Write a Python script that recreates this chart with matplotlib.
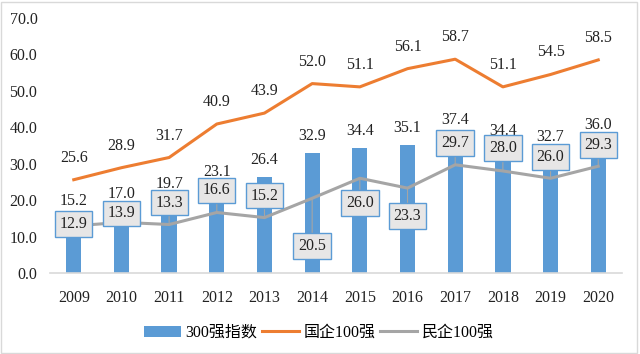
import matplotlib.pyplot as plt
from matplotlib.patches import Rectangle

plt.rcParams['font.family'] = ['Liberation Serif', 'Noto Sans CJK SC']

years = ['2009', '2010', '2011', '2012', '2013', '2014', '2015', '2016',
         '2017', '2018', '2019', '2020']
idx300 = [15.2, 17.0, 19.7, 23.1, 26.4, 32.9, 34.4, 35.1, 37.4, 34.4, 32.7, 36.0]
soe100 = [25.6, 28.9, 31.7, 40.9, 43.9, 52.0, 51.1, 56.1, 58.7, 51.1, 54.5, 58.5]
pri100 = [12.9, 13.9, 13.3, 16.6, 15.2, 20.5, 26.0, 23.3, 29.7, 28.0, 26.0, 29.3]

# callout vertical offsets (pixels) for the private-enterprise labels
pri_dy = [2, 9, 22, 22, 22, -48, -25, -28, 22, 23, 21, 21]

blue = '#5B9BD5'
orange = '#ED7D31'
gray = '#A5A5A5'
fs = 11.5

fig = plt.figure(figsize=(6.4, 3.54), dpi=100)
ax = fig.add_axes((0.078, 0.229, 0.894, 0.72))
x = range(len(years))

b = ax.bar(x, idx300, width=0.32, color=blue, label='300强指数', zorder=2)
l1, = ax.plot(x, soe100, color=orange, lw=2.2, label='国企100强', zorder=3)
l2, = ax.plot(x, pri100, color=gray, lw=2.2, label='民企100强', zorder=3)

for i in x:
    ax.annotate(f'{idx300[i]:.1f}', (i, idx300[i]), xytext=(0, 17),
                textcoords='offset pixels', ha='center', va='center',
                fontsize=fs, color='#222222', zorder=4)
    ax.annotate(f'{soe100[i]:.1f}', (i, soe100[i]), xytext=(0, 22),
                textcoords='offset pixels', ha='center', va='center',
                fontsize=fs, color='#222222', zorder=4)
    ax.annotate(f'{pri100[i]:.1f}', (i, pri100[i]), xytext=(0, pri_dy[i]),
                textcoords='offset pixels', ha='center', va='center',
                fontsize=fs, color='#222222', zorder=5,
                bbox=dict(boxstyle='square,pad=0.3', fc='#E7E6E6', ec=blue, lw=1),
                arrowprops=dict(arrowstyle='-', color=gray, lw=0.8,
                                shrinkA=0, shrinkB=0))

ax.set_xlim(-0.5, len(years) - 0.5)
ax.set_ylim(0, 70)
ax.set_yticks(range(0, 71, 10))
ax.set_yticklabels([f'{v:.1f}' for v in range(0, 71, 10)])
ax.set_xticks(list(x))
ax.set_xticklabels(years)
ax.tick_params(length=0, labelsize=fs, colors='#222222')
ax.tick_params(axis='x', pad=12)
ax.tick_params(axis='y', pad=9)
for s in ['top', 'right', 'left']:
    ax.spines[s].set_visible(False)
ax.spines['bottom'].set_color('#D9D9D9')
ax.spines['bottom'].set_linewidth(1.2)

ax.legend([b, l1, l2], ['300强指数', '国企100强', '民企100强'],
          loc='center', bbox_to_anchor=(0.47, -0.235), ncol=3, frameon=False,
          fontsize=fs, handlelength=2.3, columnspacing=0.3, handletextpad=0.3)

fig.patches.append(Rectangle((0.002, 0.003), 0.994, 0.992, transform=fig.transFigure,
                             fill=False, ec='#D9D9D9', lw=1))

fig.savefig('out.png', dpi=100)
